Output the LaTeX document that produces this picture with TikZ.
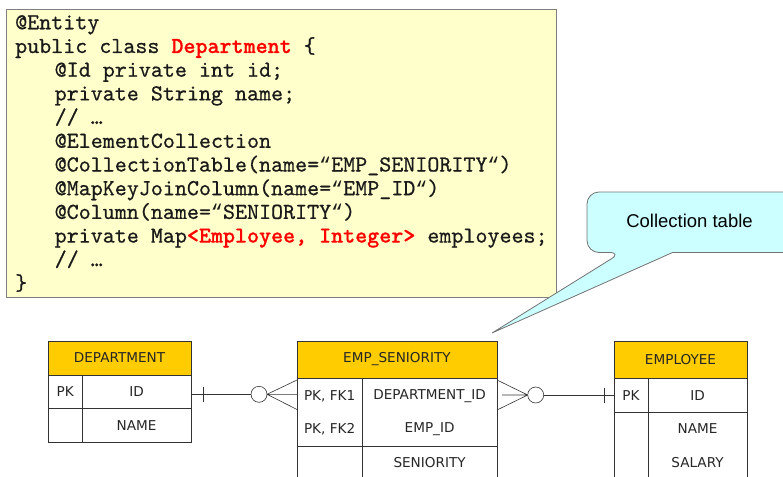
\documentclass[tikz,border=0pt]{standalone}
\usepackage{fontspec}
\newfontfamily\codefont[BoldFont=lmmonolt10-bold.otf, FakeBold=0.6]{lmmono10-regular.otf}
\newfontfamily\quotefont{Liberation Mono}
\newfontfamily\tabfont{DejaVu Sans}
\newfontfamily\callfont{Liberation Sans}
\definecolor{codebg}{HTML}{FFFFCC}
\definecolor{codeborder}{HTML}{7F7F7F}
\definecolor{codetext}{HTML}{1A1A1A}
\definecolor{kwred}{HTML}{FF0000}
\definecolor{hdr}{HTML}{FFCC00}
\definecolor{callbg}{HTML}{CCFFFF}
\definecolor{tabline}{HTML}{333333}
\tikzset{
  codeline/.style={anchor=base west, inner sep=0pt, text=codetext, font=\codefont\fontsize{22.9}{24}\selectfont},
  cell/.style={inner sep=0pt, text=black!85, font=\tabfont\fontsize{13.6}{15}\selectfont},
  tabbox/.style={draw=tabline, line width=0.8pt},
  conn/.style={draw=black!80, line width=0.6pt},
}
\newcommand{\red}[1]{\textcolor{kwred}{\bfseries #1}}
\newcommand{\qq}{{\quotefont\fontsize{20}{24}\selectfont “}}
\begin{document}
\begin{tikzpicture}[x=1pt,y=-1pt]
\useasboundingbox (0,0) rectangle (783,476);
% code box
\path[fill=codebg, draw=codeborder, line width=0.8pt] (6.5,9.5) rectangle (556.5,297.5);
\def\ind{\hspace*{39.5pt}}
\node[codeline] (c1) at (15,29.3) {@Entity};
\node[codeline] (c2) at (15,53.0) {public class \red{Department} \{};
\node[codeline] (c3) at (15,76.7) {\ind @Id private int id;};
\node[codeline] (c4) at (15,100.4) {\ind private String name;};
\node[codeline] (c5) at (15,124.1) {\ind // …};
\node[codeline] (c6) at (15,147.8) {\ind @ElementCollection};
\node[codeline] (c7) at (15,171.5) {\ind @CollectionTable(name=\qq EMP\_SENIORITY\qq)};
\node[codeline] (c8) at (15,195.2) {\ind @MapKeyJoinColumn(name=\qq EMP\_ID\qq)};
\node[codeline] (c9) at (15,218.9) {\ind @Column(name=\qq SENIORITY\qq)};
\node[codeline] (c10) at (15,242.6) {\ind private Map\red{<Employee, Integer>} employees;};
\node[codeline] (c11) at (15,266.3) {\ind // …};
\node[codeline] (c12) at (15,290.0) {\}};
% callout
\path[fill=callbg, draw=black!55, line width=0.8pt, rounded corners=12pt]
  (800,192) -- (587,192) -- (587,252.5) -- (621.5,252.5) [sharp corners] -- (492,333) -- (672.5,252.5) [rounded corners=12pt] -- (800,252.5);
\node[inner sep=0pt, font=\callfont\fontsize{18.5}{20}\selectfont, text=black] (callout) at (689.5,221) {Collection table};
% DEPARTMENT table
\fill[hdr] (48,341) rectangle (191,375);
\draw[tabbox] (48,341) rectangle (191,442);
\draw[tabbox] (48,375) -- (191,375) (48,408.5) -- (191,408.5) (82.3,375) -- (82.3,442);
\node[cell] (dname) at (119.5,358) {DEPARTMENT};
\node[cell] (dpk) at (65.2,392) {PK};
\node[cell] (did) at (136.6,392) {ID};
\node[cell] (dnm) at (136.6,425.5) {NAME};
% EMP_SENIORITY table
\fill[hdr] (297,341) rectangle (497,378);
\draw[tabbox] (297,490) -- (297,341) -- (497,341) -- (497,490);
\draw[tabbox] (297,378) -- (497,378) (297,446) -- (497,446) (362.3,378) -- (362.3,490);
\node[cell] (ename) at (397,359.5) {EMP\_SENIORITY};
\node[cell] (epk1) at (329.6,396) {PK, FK1};
\node[cell] (epk2) at (329.6,429) {PK, FK2};
\node[cell] (edep) at (429.6,396) {DEPARTMENT\_ID};
\node[cell] (eemp) at (429.6,429) {EMP\_ID};
\node[cell] (esen) at (429.6,463) {SENIORITY};
% EMPLOYEE table
\fill[hdr] (614,341) rectangle (747,378);
\draw[tabbox] (614,490) -- (614,341) -- (747,341) -- (747,490);
\draw[tabbox] (614,378) -- (747,378) (614,412) -- (747,412) (648,378) -- (648,490);
\node[cell] (mname) at (680.5,359.5) {EMPLOYEE};
\node[cell] (mpk) at (631,396) {PK};
\node[cell] (mid) at (697.5,396) {ID};
\node[cell] (mnm) at (697.5,429) {NAME};
\node[cell] (msal) at (697.5,463) {SALARY};
% connector left
\coordinate (lc) at (259,394.3);
\draw[conn] (191,394.3) -- (251,394.3);
\draw[conn] (203.3,387) -- (203.3,402);
\draw[conn, fill=white] (lc) circle (8);
\draw[conn] (267,394.3) -- (297,380) (267,394.3) -- (297,394.3) (267,394.3) -- (297,409.5);
% connector right
\coordinate (rc) at (535.7,395);
\draw[conn] (543.7,395) -- (614,395);
\draw[conn] (604.3,387.5) -- (604.3,402.5);
\draw[conn, fill=white] (rc) circle (8);
\draw[conn] (527.7,395) -- (497,380) (527.7,395) -- (502,395) (527.7,395) -- (497,410);
\end{tikzpicture}
\end{document}
